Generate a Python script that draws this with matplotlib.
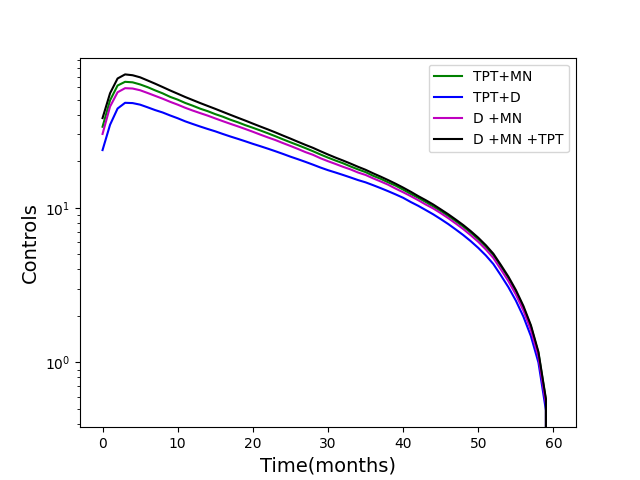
import numpy as np
import matplotlib
matplotlib.use("Agg")
import matplotlib.pyplot as plt

months = np.arange(0, 61)

# D +MN +TPT (black)
d_mn_tpt = [38.0, 55.0, 68.5, 72.8, 71.9, 69.7, 66.5, 63.4, 60.3, 57.3,
            54.6, 52.0, 49.7, 47.5, 45.5, 43.6, 41.7, 39.9, 38.2, 36.6,
            35.0, 33.5, 32.1, 30.7, 29.3, 28.0, 26.7, 25.5, 24.4, 23.2,
            22.1, 21.1, 20.2, 19.3, 18.4, 17.6, 16.7, 15.9, 15.1, 14.3,
            13.5, 12.7, 11.9, 11.2, 10.5, 9.77, 9.08, 8.39, 7.73, 7.06,
            6.40, 5.73, 5.05, 4.27, 3.59, 2.94, 2.32, 1.74, 1.17, 0.58, 0.0]

# TPT+MN (green)
tpt_mn = [33.4, 49.5, 61.7, 65.2, 64.7, 62.7, 60.2, 57.4, 54.9, 52.1,
          50.0, 47.6, 45.7, 43.7, 42.1, 40.3, 38.8, 37.1, 35.7, 34.2,
          32.9, 31.6, 30.3, 29.0, 27.7, 26.5, 25.4, 24.3, 23.2, 22.1,
          21.1, 20.2, 19.4, 18.5, 17.7, 17.0, 16.1, 15.4, 14.6, 13.9,
          13.1, 12.3, 11.6, 10.9, 10.2, 9.53, 8.85, 8.19, 7.55, 6.90,
          6.26, 5.60, 4.94, 4.18, 3.52, 2.88, 2.27, 1.71, 1.15, 0.57, 0.0]

# D +MN (magenta)
d_mn = [30.0, 45.1, 55.8, 59.3, 59.0, 57.5, 55.2, 52.9, 50.7, 48.4,
        46.4, 44.3, 42.5, 40.9, 39.4, 37.8, 36.3, 34.9, 33.6, 32.3,
        31.0, 29.7, 28.5, 27.4, 26.2, 25.1, 24.0, 22.9, 22.0, 20.9,
        20.0, 19.2, 18.4, 17.7, 16.9, 16.3, 15.5, 14.8, 14.1, 13.3,
        12.6, 11.9, 11.2, 10.5, 9.90, 9.23, 8.57, 7.91, 7.28, 6.64,
        6.02, 5.38, 4.74, 4.00, 3.36, 2.75, 2.17, 1.62, 1.09, 0.54, 0.0]

# TPT+D (blue)
tpt_d = [23.6, 34.4, 43.8, 47.7, 47.5, 46.4, 44.6, 42.8, 41.3, 39.5,
         37.9, 36.2, 34.8, 33.5, 32.3, 31.2, 30.0, 28.9, 27.9, 26.9,
         25.9, 25.0, 24.1, 23.2, 22.3, 21.4, 20.6, 19.8, 19.0, 18.2,
         17.5, 16.9, 16.3, 15.7, 15.1, 14.6, 14.0, 13.4, 12.8, 12.2,
         11.6, 10.9, 10.3, 9.67, 9.07, 8.45, 7.85, 7.24, 6.66, 6.08,
         5.50, 4.92, 4.33, 3.66, 3.07, 2.51, 1.98, 1.48, 1.00, 0.49, 0.0]

fig, ax = plt.subplots(figsize=(6.4, 4.8), dpi=100)
ax.plot(months, tpt_mn, color="green", label="TPT+MN")
ax.plot(months, tpt_d, color="blue", label="TPT+D")
ax.plot(months, d_mn, color="m", label="D +MN")
ax.plot(months, d_mn_tpt, color="black", label="D +MN +TPT")
ax.set_yscale("log")
ax.set_xlabel("Time(months)", fontsize=14)
ax.set_ylabel("Controls", fontsize=14)
ax.legend(loc="upper right")

fig.savefig("out.png")
